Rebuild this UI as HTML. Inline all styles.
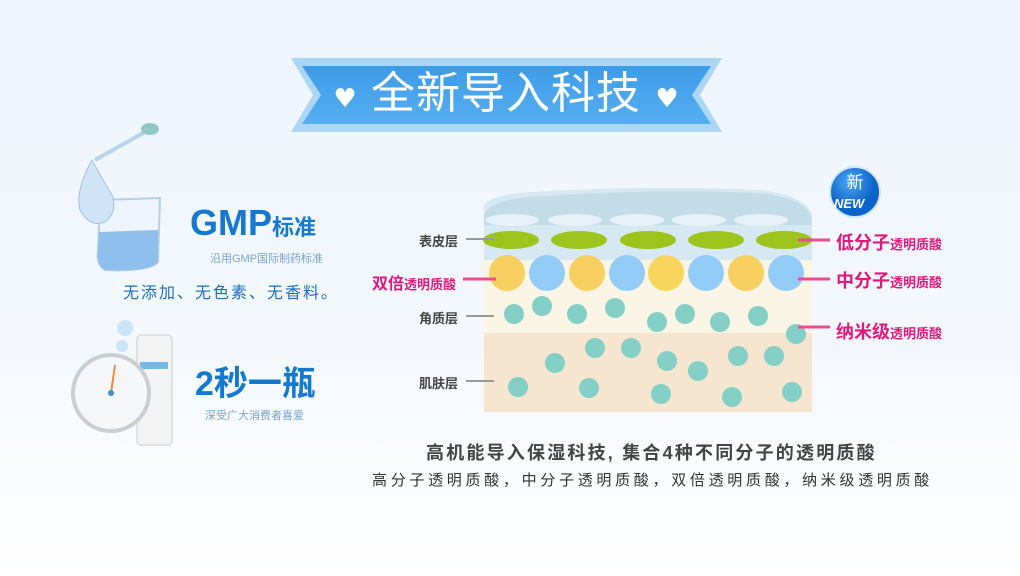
<!DOCTYPE html>
<html><head><meta charset="utf-8"><style>
body{margin:0;width:1020px;height:576px;overflow:hidden;background:linear-gradient(#eef5fd 0%,#f4f8fd 60%,#fff 100%);font-family:"Liberation Sans","Noto Sans CJK SC",sans-serif;position:relative}
.a{position:absolute;white-space:nowrap}
</style></head><body>
<svg class="a" style="left:0;top:0" width="1020" height="576">
<defs>
<linearGradient id="bb" x1="0" y1="0" x2="0" y2="1"><stop offset="0" stop-color="#3d9ce8"/><stop offset="1" stop-color="#56aef0"/></linearGradient>
<radialGradient id="nw" cx=".4" cy=".3"><stop offset="0" stop-color="#4aa8f5"/><stop offset="1" stop-color="#0c63c9"/></radialGradient>
</defs>
<polygon points="291,58 722,58 700,95 722,132 291,132 313,95" fill="#acd6f6"/>
<polygon points="302,66 711,66 692,95 711,124 302,124 321,95" fill="url(#bb)"/>
<rect x="484" y="333" width="328" height="79" fill="#f6e6cf"/>
<rect x="484" y="260" width="328" height="73" fill="#fbf5e6"/>
<path d="M484,260 L484,205 Q490,195 530,192 Q650,185 760,190 Q805,195 812,215 L812,260 Z" fill="#d6e8f2"/>
<path d="M484,215 Q490,200 530,197 Q650,188 760,193 Q805,198 812,218 L812,225 L484,225 Z" fill="#c3dcea"/>
<g fill="#e6f1f8">
<ellipse cx="512" cy="220" rx="27" ry="6"/><ellipse cx="575" cy="220" rx="27" ry="6"/><ellipse cx="637" cy="220" rx="27" ry="6"/><ellipse cx="699" cy="220" rx="27" ry="6"/><ellipse cx="761" cy="220" rx="27" ry="6"/>
</g>
<g fill="#9dc41d">
<ellipse cx="511" cy="240" rx="28" ry="9"/><ellipse cx="579" cy="240" rx="28" ry="9"/><ellipse cx="648" cy="240" rx="28" ry="9"/><ellipse cx="716" cy="240" rx="28" ry="9"/><ellipse cx="784" cy="240" rx="28" ry="9"/>
</g>
<g>
<circle cx="507" cy="273" r="18" fill="#f8cf61"/><circle cx="547" cy="273" r="18" fill="#92cbf6"/>
<circle cx="587" cy="273" r="18" fill="#f8cf61"/><circle cx="627" cy="273" r="18" fill="#92cbf6"/>
<circle cx="666" cy="273" r="18" fill="#f8d65e"/><circle cx="706" cy="273" r="18" fill="#92cbf6"/>
<circle cx="746" cy="273" r="18" fill="#f8cf61"/><circle cx="786" cy="273" r="18" fill="#92cbf6"/>
</g>
<g fill="#84cfc6">
<circle cx="514" cy="314" r="10"/><circle cx="542" cy="306" r="10"/><circle cx="577" cy="314" r="10"/><circle cx="615" cy="308" r="10"/><circle cx="657" cy="322" r="10"/><circle cx="685" cy="314" r="10"/><circle cx="720" cy="322" r="10"/><circle cx="758" cy="316" r="10"/><circle cx="796" cy="334" r="10"/>
<circle cx="555" cy="363" r="10"/><circle cx="595" cy="348" r="10"/><circle cx="631" cy="348" r="10"/><circle cx="667" cy="361" r="10"/><circle cx="698" cy="371" r="10"/><circle cx="738" cy="356" r="10"/><circle cx="774" cy="356" r="10"/>
<circle cx="518" cy="387" r="10"/><circle cx="589" cy="388" r="10"/><circle cx="661" cy="394" r="10"/><circle cx="732" cy="397" r="10"/><circle cx="792" cy="392" r="10"/>
</g>
<g stroke="#999" stroke-width="2"><line x1="466" y1="239" x2="494" y2="239"/><line x1="466" y1="316" x2="494" y2="316"/><line x1="466" y1="381" x2="494" y2="381"/></g>
<g stroke="#ea4d94" stroke-width="3"><line x1="463" y1="279" x2="496" y2="279"/><line x1="798" y1="240" x2="830" y2="240"/><line x1="798" y1="279" x2="830" y2="279"/><line x1="798" y1="327" x2="830" y2="327"/></g>
<circle cx="855" cy="192" r="25" fill="url(#nw)" stroke="#cfe6fb" stroke-width="2"/>
<path d="M100,200 L160,198 L158,262 Q150,272 105,270 Q96,265 98,250 Z" fill="#eef5fc" stroke="#b7cfe6" stroke-width="2"/>
<path d="M99,232 L158,230 L158,262 Q150,272 105,270 Q96,265 98,250 Z" fill="#8fbfec"/>
<path d="M92,160 Q75,190 80,210 Q90,228 105,222 Q118,212 112,195 Q100,175 92,160 Z" fill="#cfe4f7" stroke="#9fc3e4"/>
<line x1="95" y1="160" x2="145" y2="132" stroke="#b8d4ea" stroke-width="4"/>
<ellipse cx="150" cy="129" rx="9" ry="6" fill="#8fc8c4"/>
<rect x="137" y="335" width="35" height="110" rx="4" fill="#f4f4f4" stroke="#ccc"/>
<rect x="140" y="362" width="28" height="7" fill="#74b8e8"/>
<circle cx="111" cy="393" r="38" fill="#f5f7f9" stroke="#c9ced3" stroke-width="4"/>
<line x1="111" y1="393" x2="115" y2="365" stroke="#f08a3c" stroke-width="2"/>
<circle cx="111" cy="393" r="3" fill="#3d8fd8"/>
<circle cx="125" cy="328" r="8" fill="#c9e6f8"/><circle cx="122" cy="346" r="6" fill="#c9e6f8"/>
<text x="345" y="107" font-size="26" fill="#fff" text-anchor="middle" font-family="DejaVu Sans">♥</text>
<text x="667" y="107" font-size="26" fill="#fff" text-anchor="middle" font-family="DejaVu Sans">♥</text>
</svg>
<div class="a" style="left:371px;top:68px;font-size:44px;color:#fff;line-height:52px;letter-spacing:1px">全新导入科技</div>
<div class="a" style="left:839px;top:174px;font-size:17px;color:#fff;line-height:18px;text-align:center;width:32px">新</div>
<div class="a" style="left:834px;top:196px;font-size:13px;color:#fff;font-style:italic;font-weight:bold">NEW</div>
<div class="a" style="left:190px;top:203px;font-size:36px;font-weight:bold;color:#1479cf;line-height:40px">GMP<span style="font-size:22px">标准</span></div>
<div class="a" style="left:210px;top:250px;font-size:11px;color:#7aa6cf">沿用GMP国际制药标准</div>
<div class="a" style="left:123px;top:279px;font-size:16px;color:#1a6fc0;letter-spacing:2px">无添加、无色素、无香料。</div>
<div class="a" style="left:195px;top:364px;font-size:34px;font-weight:bold;color:#1479cf;line-height:40px">2秒一瓶</div>
<div class="a" style="left:205px;top:407px;font-size:11px;color:#7aa6cf">深受广大消费者喜爱</div>
<div class="a" style="left:419px;top:231px;font-size:13px;font-weight:bold;color:#444">表皮层</div>
<div class="a" style="left:419px;top:308px;font-size:13px;font-weight:bold;color:#444">角质层</div>
<div class="a" style="left:419px;top:373px;font-size:13px;font-weight:bold;color:#444">肌肤层</div>
<div class="a" style="left:372px;top:270px;font-size:16px;font-weight:bold;color:#e4187b">双倍<span style="font-size:13px">透明质酸</span></div>
<div class="a" style="left:836px;top:229px;font-size:18px;font-weight:bold;color:#e4187b">低分子<span style="font-size:13px">透明质酸</span></div>
<div class="a" style="left:836px;top:267px;font-size:18px;font-weight:bold;color:#e4187b">中分子<span style="font-size:13px">透明质酸</span></div>
<div class="a" style="left:836px;top:318px;font-size:18px;font-weight:bold;color:#e4187b">纳米级<span style="font-size:13px">透明质酸</span></div>
<div class="a" style="left:426px;top:439px;font-size:18px;font-weight:bold;color:#444;letter-spacing:2.2px">高机能导入保湿科技, 集合4种不同分子的透明质酸</div>
<div class="a" style="left:372px;top:469px;font-size:15px;color:#333;letter-spacing:3.7px">高分子透明质酸，中分子透明质酸，双倍透明质酸，纳米级透明质酸</div>
</body></html>
